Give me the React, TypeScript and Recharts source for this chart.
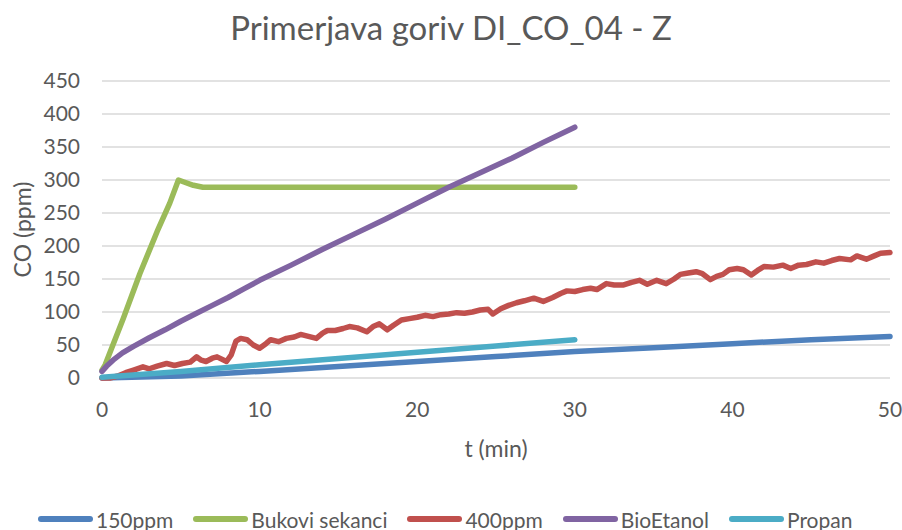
import { LineChart, Line, XAxis, YAxis, CartesianGrid, Label } from 'recharts';

const xTicks = [0, 10, 20, 30, 40, 50];
const yTicks = [0, 50, 100, 150, 200, 250, 300, 350, 400, 450];

// 150ppm
const t150 = [0, 5, 10, 15, 20, 25, 30, 35, 40, 45, 50];
const v150 = [0, 3, 10, 17.5, 25, 32.5, 40, 46, 52, 58, 63];

// Bukovi sekanci
const tBukovi = [0, 0.2, 1.35, 2.4, 3.5, 4.3, 4.85, 5.2, 5.8, 6.4, 10, 15, 20, 25, 30];
const vBukovi = [12, 20, 90, 158, 222, 265, 300, 297, 292, 289, 289, 289, 289, 289, 289];

// 400ppm
const t400 = [
  0, 0.5, 1, 1.5, 2, 2.6, 3, 3.5, 4.1, 4.6, 5.1, 5.6, 6, 6.3, 6.6, 7, 7.3, 7.9, 8.2, 8.5,
  8.8, 9.2, 9.6, 10, 10.4, 10.7, 11.2, 11.7, 12.2, 12.6, 13.1, 13.6, 14, 14.3, 14.8, 15.3,
  15.7, 16.2, 16.8, 17.2, 17.6, 18.1, 18.5, 19, 19.5, 20, 20.5, 21, 21.5, 22, 22.5, 23,
  23.5, 24, 24.5, 24.8, 25.3, 25.8, 26.3, 26.8, 27.4, 28, 28.6, 29.1, 29.5, 30, 30.5, 31,
  31.4, 32, 32.5, 33.1, 33.6, 34.1, 34.6, 35.2, 35.8, 36.3, 36.7, 37.2, 37.7, 38.1, 38.6,
  39, 39.4, 39.8, 40.3, 40.7, 41.2, 41.6, 42, 42.6, 43.2, 43.7, 44.2, 44.7, 45.3, 45.8,
  46.3, 46.8, 47.5, 47.9, 48.5, 49, 49.4, 50,
];
const v400 = [
  0, 0, 3, 8, 12, 17, 14, 18, 22, 19, 22, 24, 32, 27, 25, 30, 32, 25, 35, 56,
  60, 58, 50, 45, 52, 58, 55, 60, 62, 66, 63, 60, 68, 72, 72, 75,
  78, 76, 70, 78, 82, 73, 80, 88, 90, 92, 95, 93, 96, 97, 99, 98,
  100, 103, 104, 97, 105, 110, 114, 117, 121, 116, 122, 128, 132, 131, 134, 136,
  134, 143, 141, 141, 145, 148, 142, 148, 143, 150, 157, 159, 161, 158, 149,
  154, 157, 164, 166, 164, 156, 163, 169, 168, 171, 166, 171, 172, 176, 174,
  178, 181, 179, 185, 180, 185, 189, 190,
];

// BioEtanol
const tBio = [0, 0.3, 0.7, 1.3, 2, 3, 4, 5, 6, 7, 8, 9, 10, 12, 14, 16, 18, 20, 22, 24, 26, 28, 30];
const vBio = [10, 18, 27, 38, 48, 61, 73, 86, 98, 110, 122, 135, 148, 171, 195, 218, 241, 265, 289, 311, 333, 357, 380];

// Propan
const tPropan = [0, 5, 10, 15, 20, 25, 30];
const vPropan = [1, 10, 20, 29.5, 39, 48.5, 58];

const toPoints = (ts: number[], vs: number[]) => ts.map((t, i) => ({ t, v: vs[i] }));

const series = [
  { name: '150ppm', color: '#4F81BD', data: toPoints(t150, v150) },
  { name: 'Bukovi sekanci', color: '#9BBB59', data: toPoints(tBukovi, vBukovi) },
  { name: '400ppm', color: '#C0504D', data: toPoints(t400, v400) },
  { name: 'BioEtanol', color: '#8064A2', data: toPoints(tBio, vBio) },
  { name: 'Propan', color: '#4BACC6', data: toPoints(tPropan, vPropan) },
];

const FONT = 'Lato, "Open Sans", sans-serif';
const TEXT = '#595959';

const YTitle = (props: any) => {
  const vb = props.viewBox || { y: 81, height: 297 };
  const cy = vb.y + vb.height / 2;
  return (
    <text
      x={22}
      y={cy}
      transform={`rotate(-90, 22, ${cy})`}
      textAnchor="middle"
      dominantBaseline="central"
      fill={TEXT}
      fontSize={23}
      fontFamily={FONT}
    >
      CO (ppm)
    </text>
  );
};

export default function App() {
  return (
    <div style={{ position: 'fixed', top: 0, left: 0, width: 902, height: 530, background: '#fff', fontFamily: FONT, overflow: 'hidden' }}>
      <div
        style={{
          position: 'absolute', top: 0, left: 0, width: 902, height: 55, lineHeight: '55px',
          textAlign: 'center', fontSize: 33, color: TEXT,
        }}
      >
        Primerjava goriv DI_CO_04 - Z
      </div>
      <LineChart width={902} height={530} margin={{ top: 81, right: 12, bottom: 68, left: 0 }}>
        <CartesianGrid vertical={false} stroke="#D9D9D9" strokeWidth={1.5} />
        <XAxis
          dataKey="t"
          type="number"
          domain={[0, 50]}
          ticks={xTicks}
          interval={0}
          height={84}
          axisLine={false}
          tickLine={false}
          tickMargin={18}
          tick={{ fill: TEXT, fontSize: 21, fontFamily: FONT }}
          allowDuplicatedCategory={false}
        >
          <Label value="t (min)" position="insideBottom" offset={5} fill={TEXT} fontSize={23} fontFamily={FONT} />
        </XAxis>
        <YAxis
          type="number"
          domain={[0, 450]}
          ticks={yTicks}
          width={102}
          axisLine={false}
          tickLine={false}
          tickMargin={16}
          tick={{ fill: TEXT, fontSize: 21, fontFamily: FONT }}
          label={<YTitle />}
        />
        {series.map((s) => (
          <Line
            key={s.name}
            data={s.data}
            dataKey="v"
            name={s.name}
            type="linear"
            stroke={s.color}
            strokeWidth={5.5}
            strokeLinecap="round"
            strokeLinejoin="round"
            dot={false}
            activeDot={false}
            isAnimationActive={false}
          />
        ))}
      </LineChart>
      <div
        style={{
          position: 'absolute', top: 504, left: 38, height: 30, display: 'flex', alignItems: 'center',
          fontSize: 21, color: TEXT, whiteSpace: 'nowrap',
        }}
      >
        {series.map((s) => (
          <div key={s.name} style={{ display: 'flex', alignItems: 'center', marginRight: 20 }}>
            <div style={{ width: 55, height: 6, borderRadius: 3, background: s.color, marginRight: 3 }} />
            <span>{s.name}</span>
          </div>
        ))}
      </div>
    </div>
  );
}
